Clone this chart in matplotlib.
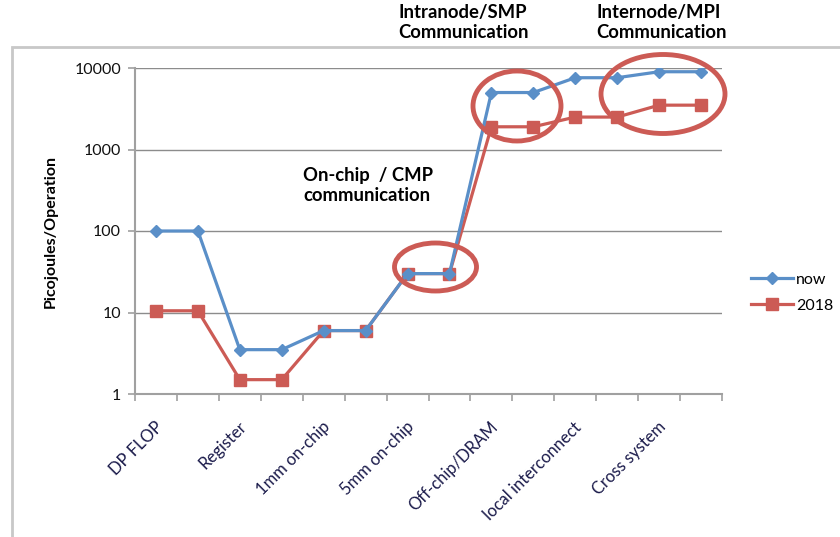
import matplotlib
matplotlib.use("Agg")
import matplotlib.pyplot as plt
from matplotlib.patches import Ellipse, Rectangle
import numpy as np

categories = ["DP FLOP", "Register", "1mm on-chip", "5mm on-chip",
              "Off-chip/DRAM", "local interconnect", "Cross system"]
now = [100, 100, 3.5, 3.5, 6, 6, 30, 30, 5000, 5000, 7600, 7600, 9000, 9000]
y2018 = [10.5, 10.5, 1.5, 1.5, 6, 6, 30, 30, 1900, 1900, 2500, 2500, 3500, 3500]
yticks = [1, 10, 100, 1000, 10000]

BLUE = "#5a8fc8"
RED = "#cc5b55"

plt.rcParams['font.family'] = ['Lato', 'DejaVu Sans']

fig = plt.figure(figsize=(8.4, 5.37), dpi=100)
W, H = 840, 537
ax = fig.add_axes([135 / W, 1 - 394 / H, (722 - 135) / W, (394 - 68) / H])

x = np.arange(len(now))
ax.plot(x, now, color=BLUE, lw=2.3, marker='D', ms=6.5, mec=BLUE, mfc=BLUE,
        label="now", zorder=3)
ax.plot(x, y2018, color=RED, lw=2.3, marker='s', ms=9, mec=RED, mfc=RED,
        label="2018", zorder=2)

ax.set_yscale('log')
ax.set_ylim(1, 10000)
ax.set_xlim(-0.5, len(now) - 0.5)
ax.set_yticks(yticks)
ax.set_yticklabels([str(v) for v in yticks], fontsize=11.5)
ax.yaxis.set_minor_locator(matplotlib.ticker.NullLocator())
ax.grid(axis='y', color='#8c8c8c', lw=1.0)
ax.set_axisbelow(True)

ax.set_xticks(np.arange(-0.5, len(now), 1.0))
ax.set_xticklabels([])
ax.tick_params(axis='x', direction='out', length=5, color='#a0a0a0', width=1.2)
ax.tick_params(axis='y', direction='out', length=5, color='#a0a0a0', width=1.2,
               pad=5, labelcolor='#111111')
for i, name in enumerate(categories):
    ax.annotate(name, xy=(2 * i, 1), xycoords='data', xytext=(3, -22),
                textcoords='offset points', rotation=45, rotation_mode='anchor',
                ha='right', va='center', fontsize=12, color='#1a1a4a')

for s in ['top', 'right']:
    ax.spines[s].set_visible(False)
for s in ['left', 'bottom']:
    ax.spines[s].set_color('#a0a0a0')
    ax.spines[s].set_linewidth(1.5)

ax.set_ylabel("Picojoules/Operation", fontsize=11.5, fontweight='bold', labelpad=12)

leg = fig.legend(loc='upper left', bbox_to_anchor=(745 / W, 1 - 266 / H), frameon=False,
                 fontsize=11.5, handlelength=2.6, labelspacing=0.75, handletextpad=0.2,
                 borderaxespad=0)

# outer frame
fig.patches.append(Rectangle((12 / W, -0.05), 1.0, 1 - 47 / H + 0.05, transform=fig.transFigure,
                             fill=False, ec='#c8c8c8', lw=2, zorder=0))

# annotations
fig.text(398 / W, 1 - 4 / H, "Intranode/SMP\nCommunication", ha='left', va='top',
         fontsize=13.3, fontweight='bold', linespacing=1.2)
fig.text(596 / W, 1 - 4 / H, "Internode/MPI\nCommunication", ha='left', va='top',
         fontsize=13.3, fontweight='bold', linespacing=1.2)
fig.text(303 / W, 1 - 167 / H, "On-chip  / CMP\ncommunication", ha='left', va='top',
         fontsize=13.3, fontweight='bold', linespacing=1.2)

for cx, cy, w, h in [(517, 106, 88, 70), (663, 94, 124, 79), (435.5, 267, 82, 48)]:
    fig.patches.append(Ellipse((cx / W, 1 - cy / H), w / W, h / H, transform=fig.transFigure,
                               fill=False, ec=RED, lw=3.5, zorder=5))

fig.savefig("out.png", dpi=100)
